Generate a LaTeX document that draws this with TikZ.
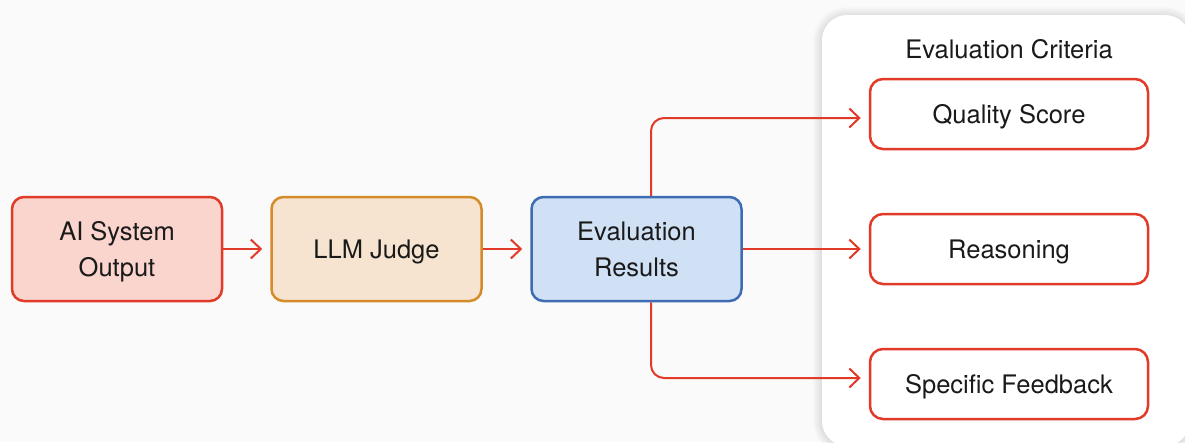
\documentclass[tikz,border=0pt]{standalone}
\usepackage{fontspec}
\setmainfont{TeX Gyre Heros}
\usetikzlibrary{arrows.meta,calc}

\definecolor{pagebg}{HTML}{FAFAFA}
\definecolor{linkred}{HTML}{E23A28}
\definecolor{txt}{HTML}{1A1A1A}
\definecolor{redfill}{HTML}{FAD5CE}
\definecolor{tanfill}{HTML}{F6E4D0}
\definecolor{tanline}{HTML}{D68B2A}
\definecolor{bluefill}{HTML}{D0E1F5}
\definecolor{blueline}{HTML}{3D6CB5}

\tikzset{
  labelfont/.style={text=txt, font=\fontsize{25.5}{36}\selectfont},
  oneline/.style={text height=18.3pt, text depth=0pt},
  twoline/.style={text height=54.3pt, text depth=0pt},
  basebox/.style={labelfont, rounded corners=12pt, line width=2.5pt,
    minimum width=210pt, minimum height=104pt, align=center},
  critbox/.style={labelfont, oneline, rounded corners=13pt, line width=2.5pt,
    draw=linkred, fill=white, minimum width=278pt, minimum height=70pt},
  flow/.style={draw=linkred, line width=2pt, shorten >=8pt,
    -{Straight Barb[length=10pt,width=19pt,line width=2pt]}},
}

\begin{document}
\begin{tikzpicture}[x=1pt,y=-1pt]
  \useasboundingbox (0,0) rectangle (1185,442);
  \fill[pagebg] (0,0) rectangle (1185,442);

  % criteria panel with a soft shadow, running off the right and bottom edges
  \begin{scope}
    \clip (0,0) rectangle (1185,442);
    \foreach \s in {9,8,...,1}
      \fill[black, opacity=0.012, rounded corners={25pt+\s pt}]
        (822-\s,15-\s+1) rectangle (1190+\s,446+\s);
    \fill[white, rounded corners=25pt] (822,15) rectangle (1190,446);
  \end{scope}
  \node[labelfont, oneline] (title) at (1009,49) {Evaluation Criteria};

  % pipeline
  \node[basebox, twoline, draw=linkred, fill=redfill] (out) at (117,249) {AI System\\Output};
  \node[basebox, oneline, draw=tanline, fill=tanfill] (judge) at (376.5,249) {LLM Judge};
  \node[basebox, twoline, draw=blueline, fill=bluefill] (res) at (636.5,249) {Evaluation\\Results};

  % criteria
  \node[critbox] (qs) at (1009,114) {Quality Score};
  \node[critbox] (rs) at (1009,249) {Reasoning};
  \node[critbox] (sf) at (1009,384) {Specific Feedback};

  % connectors
  \draw[flow] (out) -- (judge);
  \draw[flow] (judge) -- (res);
  \draw[flow] (res) -- (rs);
  \draw[flow, rounded corners=13pt]
    ([xshift=14.5pt]res.north) |- ([yshift=-4pt]qs.west);
  \draw[flow, rounded corners=13pt]
    ([xshift=14.5pt]res.south) |- ([yshift=6pt]sf.west);
\end{tikzpicture}
\end{document}
